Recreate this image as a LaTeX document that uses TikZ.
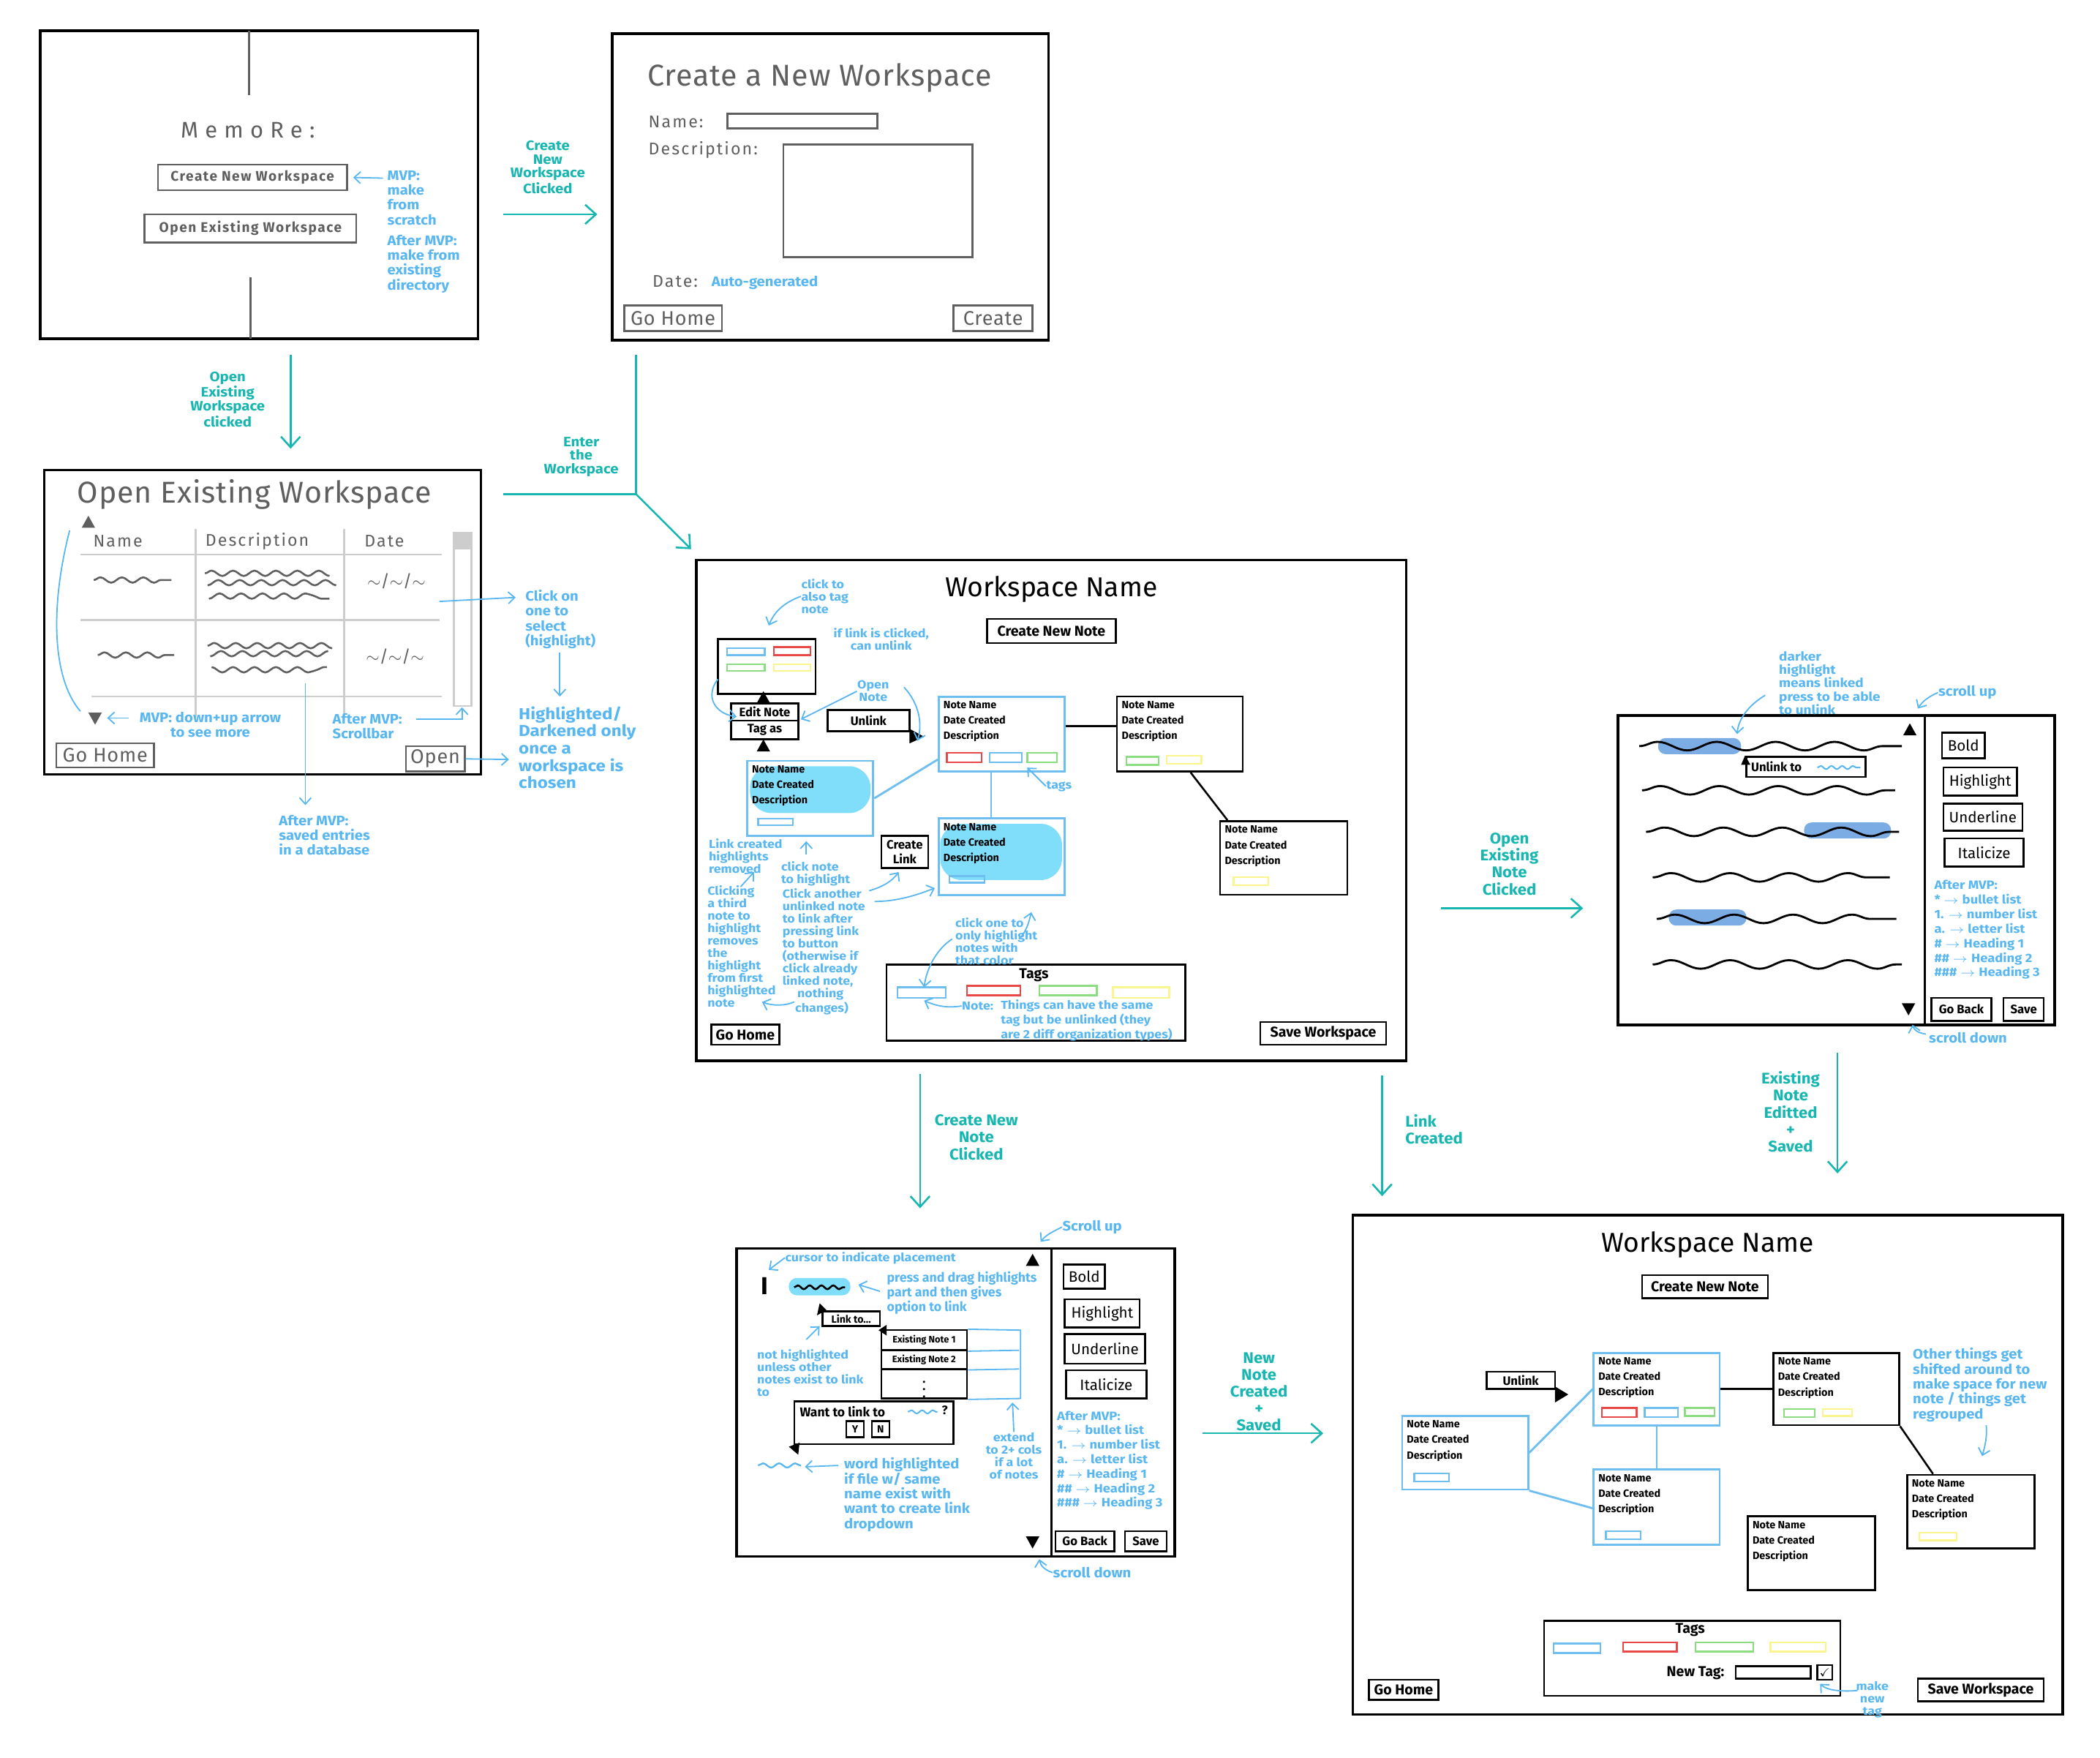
\documentclass[tikz,border=0pt]{standalone}
\usepackage{fontspec}
\usepackage{amssymb}
\setmainfont{Fira Sans}
\usetikzlibrary{arrows.meta,calc,fit,decorations.pathmorphing}

\definecolor{flowteal}{RGB}{24,182,176}
\definecolor{annblue}{RGB}{88,182,240}
\definecolor{hlcyan}{RGB}{128,222,250}
\definecolor{hldark}{RGB}{124,172,228}
\definecolor{tagblue}{RGB}{110,190,240}
\definecolor{tagred}{RGB}{232,72,72}
\definecolor{taggreen}{RGB}{140,220,130}
\definecolor{tagyellow}{RGB}{250,245,140}
\definecolor{dkgray}{RGB}{95,95,95}
\definecolor{ltgray}{RGB}{205,205,205}

\tikzset{
  screen/.style={draw, line width=1.4pt, inner sep=0pt},
  nbox/.style={draw, line width=1pt, inner sep=0pt},
  gbox/.style={draw=dkgray, line width=1pt, inner sep=0pt},
  bluebox/.style={draw=tagblue, line width=1.1pt, inner sep=0pt},
  flow/.style={draw=flowteal, line width=1pt, -{Straight Barb[length=2mm,width=3.6mm]}},
  flowline/.style={draw=flowteal, line width=1pt},
  flowlbl/.style={text=flowteal, font=\fontsize{7.2}{7.2}\selectfont\bfseries, align=center, inner sep=0pt, xscale=1.1},
  flowbig/.style={text=flowteal, font=\fontsize{8.2}{9}\selectfont\bfseries, align=center, inner sep=0pt, xscale=1.05},
  annbase/.style={text=annblue, align=left, inner sep=0pt},
  ann/.style={annbase, font=\fontsize{7.3}{7.9}\selectfont\bfseries, xscale=1.08},
  annsm/.style={annbase, font=\fontsize{6.2}{6.6}\selectfont\bfseries, xscale=1.12},
  annbig/.style={annbase, font=\fontsize{8.4}{9.2}\selectfont\bfseries, xscale=1.12},
  annarrow/.style={draw=annblue, line width=0.7pt, -{Straight Barb[length=1.2mm,width=2.2mm]}},
  annline/.style={draw=annblue, line width=0.7pt},
  notetxt/.style={font=\fontsize{5.6}{8.2}\selectfont\bfseries, align=left, inner sep=0pt},
  btntxt/.style={font=\fontsize{6.5}{7.5}\selectfont\bfseries},
  btnbig/.style={font=\fontsize{7.6}{8}\selectfont\bfseries},
  sidetxt/.style={font=\fontsize{8}{8}\selectfont},
  gtxt/.style={text=dkgray, font=\fontsize{10.5}{11}\selectfont\addfontfeature{LetterSpace=3}},
  lbl/.style={text=dkgray, font=\fontsize{9}{11}\selectfont\addfontfeature{LetterSpace=9}, inner sep=0pt},
  title/.style={font=\fontsize{16}{18}\selectfont\addfontfeature{LetterSpace=2}, inner sep=0pt},
  wstitle/.style={font=\fontsize{14.5}{17}\selectfont, inner sep=0pt},
  tag/.style={line width=0.9pt},
  squig/.style={decorate, decoration={snake, amplitude=0.8mm, segment length=11mm}, line width=1.1pt},
  gsquig/.style={decorate, decoration={snake, amplitude=0.5mm, segment length=4mm}, draw=dkgray, line width=1pt},
}

% button: name, box style, corners, text style, text
\newcommand{\btn}[5]{%
  \node[#2, fit={#3}] (#1) {};
  \node[#4, inner sep=0pt] (#1txt) at (#1.center) {#5};
}
% note card: name, border style, top left, bottom right
\newcommand{\notecard}[4]{%
  \node[#2, fit={#3 #4}] (#1) {};
  \node[notetxt, anchor=north west] (#1txt) at ($(#1.north west)+(4,4)$) {Note Name\\Date Created\\Description};
}
\newcommand{\tagbox}[3]{\draw[tag, draw=#1] #2 rectangle #3;}
\newcommand{\uptri}[2][black]{\fill[#1] #2 ++(-5,4) -- ++(10,0) -- ++(-5,-9) -- cycle;}
\newcommand{\downtri}[2][black]{\fill[#1] #2 ++(-5,-4) -- ++(10,0) -- ++(-5,9) -- cycle;}

\begin{document}
\begin{tikzpicture}[x=0.25mm, y=-0.25mm]
\useasboundingbox (0,0) rectangle (1568,1312);

%% ---------- home screen
\node[screen, fit={(30,23) (357,253)}] (home) {};
\draw[dkgray, line width=0.9pt] (186,23) -- (186,71) (187,207) -- (187,253);
\node[text=dkgray, font=\fontsize{12}{14}\selectfont\addfontfeature{LetterSpace=30}] (homeTitle) at (185,97) {MemoRe:};
\btn{newWs}{gbox}{(118,123) (259,142)}{gtxt, font=\fontsize{7.4}{8}\selectfont\bfseries\addfontfeature{LetterSpace=8}}{Create New Workspace}
\btn{openWs}{gbox}{(108,160) (266,181)}{gtxt, font=\fontsize{7.4}{8}\selectfont\bfseries\addfontfeature{LetterSpace=8}}{Open Existing Workspace}
\node[ann, anchor=north west] (homeNote) at (289,127) {MVP:\\make\\from\\scratch\\[3pt]After MVP:\\make from\\existing\\directory};
\draw[annarrow] (286,133) -- ($(newWs.east)+(4,0)$);

% home -> create
\coordinate (f1a) at (376,160); \coordinate (f1b) at (446,160);
\draw[flow] (f1a) -- (f1b);
\node[flowlbl] (f1lbl) at (409,125) {Create\\New\\Workspace\\Clicked};

%% ---------- create workspace
\node[screen, fit={(457,25) (783,254)}] (createWs) {};
\node[title, text=dkgray] (cwTitle) at (612,58) {Create a New Workspace};
\node[lbl, anchor=west] (nameLbl) at (484,91) {Name:};
\node[gbox, fit={(543,85) (655,96)}] (nameField) {};
\node[lbl, anchor=west] (descLbl) at (484,112) {Description:};
\node[gbox, fit={(585,108) (726,192)}] (descField) {};
\node[lbl, anchor=west] (dateLbl) at (487,210) {Date:};
\node[ann, anchor=west] (dateAuto) at (531,211) {Auto-generated};
\btn{cwHome}{gbox}{(466,228) (539,247)}{gtxt}{Go Home}
\btn{cwCreate}{gbox}{(712,228) (771,247)}{gtxt}{Create}

% home -> open
\coordinate (f2a) at (217,265); \coordinate (f2b) at (217,335);
\draw[flow] (f2a) -- (f2b);
\node[flowlbl] (f2lbl) at (170,298) {Open\\Existing\\Workspace\\clicked};

%% ---------- open existing workspace
\node[screen, fit={(33,351) (359,578)}] (openScr) {};
\node[title, text=dkgray] (oeTitle) at (190,369) {Open Existing Workspace};
\uptri[dkgray]{(66,390)}
\downtri[dkgray]{(71,536)}
\node[lbl] (colName) at (88,404) {Name};
\node[lbl] (colDesc) at (192,404) {Description};
\node[lbl] (colDate) at (287,404) {Date};
\draw[ltgray, line width=1pt] (60,414) -- (330,414) (60,463) -- (328,463) (68,520) -- (330,520)
  (146,395) -- (146,535) (257,395) -- (257,535);
\draw[ltgray, line width=1pt] (339,398) rectangle (352,527);
\fill[ltgray] (339,398) rectangle (352,410);
% row squiggles
\draw[gsquig] (70,433) -- (128,433);
\draw[gsquig] (153,428) -- (245,428) (155,437) -- (245,437) (156,447) -- (246,447);
\node[text=dkgray, font=\fontsize{9}{10}\selectfont] (date1) at (296,434) {$\sim$/$\sim$/$\sim$};
\draw[gsquig] (73,489) -- (130,489);
\draw[gsquig] (155,482) -- (244,482) (157,490) -- (242,490) (158,498) -- (244,498);
\node[text=dkgray, font=\fontsize{9}{10}\selectfont] (date2) at (295,490) {$\sim$/$\sim$/$\sim$};
\btn{oeHome}{gbox}{(42,555) (115,573)}{gtxt}{Go Home}
\btn{oeOpen}{gbox}{(303,557) (347,576)}{gtxt}{Open}
% notes on the open screen
\draw[annline] (52,396) .. controls (38,450) and (38,505) .. (60,531);
\node[ann, align=center] (arrowNote) at (157,541) {MVP: down+up arrow\\to see more};
\draw[annarrow] (96,536) -- (80,536);
\node[ann, anchor=west] (scrollNote) at (248,542) {After MVP:\\Scrollbar};
\draw[annarrow] (311,537) -- (345,537) -- (345,528);
\coordinate (dbTop) at (228,510);
\node[ann, anchor=north west] (dbNote) at (208,608) {After MVP:\\saved entries\\in a database};
\draw[annarrow] (dbTop) -- (228,601);
\node[ann, anchor=north west] (clickNote) at (392,440) {Click on\\one to\\select\\(highlight)};
\draw[annarrow] (328,449) -- (385,446);
\node[annbig, anchor=north west] (darkNote) at (387,527) {Highlighted/\\Darkened only\\once a\\workspace is\\chosen};
\draw[annarrow] (418,487) -- (418,520);
\draw[annarrow] (oeOpen.east) -- (380,567);

% create -> workspace
\coordinate (f3a) at (475,265); \coordinate (f3k) at (475,369);
\coordinate (f3c) at (376,369); \coordinate (f3b) at (516,410);
\draw[flowline] (f3a) -- (f3k) -- (f3c);
\draw[flow] (f3k) -- (f3b);
\node[flowlbl] (f3lbl) at (434,341) {Enter\\the\\Workspace};

%% ---------- workspace
\node[screen, fit={(520,418) (1050,792)}] (ws) {};
\node[wstitle] (wsTitle) at (785,440) {Workspace Name};
\btn{wsNew}{nbox}{(737,462) (833,480)}{btnbig}{Create New Note}
% tag menu
\node[nbox, fit={(536,477) (609,518)}] (tagMenu) {};
\tagbox{tagblue}{(543,484)}{(571,489)}
\tagbox{tagred}{(578,483)}{(605,489)}
\tagbox{taggreen}{(543,496)}{(571,501)}
\tagbox{tagyellow}{(578,496)}{(605,501)}
\uptri{(570,521)}
\btn{editNote}{nbox}{(546,525) (596,538)}{btntxt}{Edit Note}
\btn{tagAs}{nbox}{(546,538) (596,552)}{btntxt}{Tag as}
\uptri{(570,557)}
\btn{unlinkBtn}{nbox}{(618,530) (679,546)}{btntxt}{Unlink}
\fill (679,544) -- (690,550) -- (679,555) -- cycle;
% notes
\fill[hlcyan, rounded corners=4mm] (560,572) rectangle (650,607);
\fill[hlcyan, rounded corners=4mm] (702,615) rectangle (793,657);
\notecard{noteA}{bluebox}{(701,520)}{(795,576)}
\notecard{noteB}{bluebox}{(558,568)}{(652,624)}
\notecard{noteC}{bluebox}{(701,611)}{(795,668)}
\notecard{noteD}{nbox}{(834,520)}{(928,576)}
\notecard{noteE}{nbox}{(911,613)}{(1006,668)}
\tagbox{tagred}{(707,562)}{(733,569)}
\tagbox{tagblue}{(739,562)}{(763,569)}
\tagbox{taggreen}{(767,562)}{(789,569)}
\tagbox{tagblue}{(566,611)}{(592,616)}
\tagbox{tagblue}{(709,654)}{(735,659)}
\tagbox{taggreen}{(841,565)}{(865,571)}
\tagbox{tagyellow}{(871,564)}{(897,570)}
\tagbox{tagyellow}{(921,655)}{(947,661)}
\draw[tagblue, line width=1.1pt] (noteB.east) -- ($(noteA.west)+(0,19)$);
\draw[tagblue, line width=1.1pt] ($(noteA.south)+(-8,0)$) -- ($(noteC.north)+(-8,0)$);
\draw[line width=1pt] ($(noteA.east)+(0,-6)$) -- ($(noteD.west)+(0,-6)$);
\draw[line width=1pt] ($(noteD.south)+(8,0)$) -- ($(noteE.north)+(-42,0)$);
\btn{createLink}{nbox}{(658,624) (693,648)}{btntxt, align=center}{Create\\Link}
% tags panel
\node[nbox, fit={(662,720) (885,777)}] (tagsPanel) {};
\node[btnbig] (tagsTitle) at (772,728) {Tags};
\tagbox{tagblue}{(670,737)}{(706,745)}
\tagbox{tagred}{(722,736)}{(762,743)}
\tagbox{taggreen}{(776,736)}{(819,743)}
\tagbox{tagyellow}{(831,737)}{(873,745)}
\node[annsm, anchor=west] (tagNoteA) at (718,751) {Note:};
\node[annsm, anchor=north west] (tagNoteB) at (747,746) {Things can have the same\\tag but be unlinked (they\\are 2 diff organization types)};
\draw[annarrow] (tagNoteA.west) .. controls (705,753) and (697,750) .. (690,747);
\btn{wsHome}{nbox}{(531,765) (582,780)}{btnbig}{Go Home}
\btn{wsSave}{nbox}{(941,763) (1035,780)}{btnbig}{Save Workspace}
% workspace notes
\node[annsm, anchor=north west] (tagNote) at (598,432) {click to\\also tag\\note};
\draw[annarrow] (tagNote.west) .. controls (585,450) and (578,457) .. (574,467);
\node[annsm, align=center] (unlinkNote) at (658,477) {if link is clicked,\\can unlink};
\draw[annarrow] (536,507) .. controls (526,520) and (534,533) .. (550,535);
\node[annsm, align=center] (openNote) at (652,516) {Open\\Note};
\draw[annarrow] (openNote.west) -- (598,537);
\draw[annarrow] (675,513) .. controls (686,525) and (689,540) .. (685,553);
\node[annsm, anchor=west] (tagsLbl) at (781,587) {tags};
\draw[annarrow] (tagsLbl.west) -- (767,573);
\node[annsm, anchor=north west] (removedNote) at (529,626) {Link created\\highlights\\removed};
\draw[annarrow] (602,638) -- (602,628);
\node[annsm, anchor=north west] (clickNoteB) at (583,643) {click note\\to highlight};
\node[annsm, anchor=north west] (thirdNote) at (528,661) {Clicking\\a third\\note to\\highlight\\removes\\the\\highlight\\from first\\highlighted\\note};
\draw[annarrow] (553,662) -- (563,651);
\node[annsm, anchor=north west] (anotherNote) at (584,663) {Click another\\unlinked note\\to link after\\pressing link\\to button\\(otherwise if\\click already\\linked note,\\\hspace{7pt}nothing\\\hspace{6pt}changes)};
\draw[annarrow] (649,665) .. controls (659,662) and (666,658) .. (671,651);
\draw[annarrow] (653,673) .. controls (670,673) and (685,668) .. (698,663);
\draw[annarrow] (593,748) .. controls (586,751) and (577,751) .. (569,748);
\node[annsm, anchor=north west] (colorNote) at (713,685) {click one to\\only highlight\\notes with\\that color};
\draw[annarrow] (762,700) .. controls (766,695) and (768,690) .. (770,681);
\draw[annarrow] (711,701) .. controls (700,708) and (692,722) .. (690,737);

% workspace -> new note, link created
\coordinate (f4a) at (687,802); \coordinate (f4b) at (687,902);
\draw[flow] (f4a) -- (f4b);
\node[flowbig] (f4lbl) at (729,849) {Create New\\Note\\Clicked};
\coordinate (f5a) at (1032,803); \coordinate (f5b) at (1032,893);
\draw[flow] (f5a) -- (f5b);
\node[flowbig, anchor=west, align=left] (f5lbl) at (1049,843) {Link\\Created};
% workspace -> note editor
\coordinate (f6a) at (1076,678); \coordinate (f6b) at (1182,678);
\draw[flow] (f6a) -- (f6b);
\node[flowbig] (f6lbl) at (1127,645) {Open\\Existing\\Note\\Clicked};

%% ---------- existing note editor
\node[screen, fit={(1208,534) (1534,765)}] (noteEd) {};
\draw[line width=1.2pt] (1437,534) -- (1437,765);
\uptri{(1426,545)}
\downtri{(1425,753)}
\fill[hldark, rounded corners=1.4mm] (1238,551) rectangle (1300,563);
\fill[hldark, rounded corners=1.4mm] (1347,614) rectangle (1412,626);
\fill[hldark, rounded corners=1.4mm] (1246,679) rectangle (1304,691);
\draw[squig] (1224,557) -- (1420,557);
\draw[squig] (1226,590) -- (1415,590);
\draw[squig] (1229,621) -- (1418,621);
\draw[squig] (1234,655) -- (1411,655);
\draw[squig] (1237,686) -- (1416,686);
\draw[squig] (1234,720) -- (1420,720);
\fill (1300,571) -- (1307,571) -- (1303,564) -- cycle;
\node[nbox, fit={(1304,565) (1393,580)}] (unlinkTo) {};
\node[btntxt, anchor=west, inner sep=0pt] (unlinkToTxt) at ($(unlinkTo.west)+(4,0)$) {Unlink to};
\draw[annblue, line width=0.8pt, decorate, decoration={snake, amplitude=0.3mm, segment length=2mm}] (1357,573) -- (1389,573);
\btn{edBold}{nbox}{(1450,547) (1482,566)}{sidetxt}{Bold}
\btn{edHigh}{nbox}{(1451,573) (1506,594)}{sidetxt}{Highlight}
\btn{edUnder}{nbox}{(1451,600) (1510,620)}{sidetxt}{Underline}
\btn{edItal}{nbox}{(1452,626) (1511,647)}{sidetxt}{Italicize}
\node[annsm, anchor=north west, font=\fontsize{6.4}{7.7}\selectfont\bfseries] (edMvp) at (1444,657) {After MVP:\\* $\to$ bullet list\\1. $\to$ number list\\a. $\to$ letter list\\\# $\to$ Heading 1\\\#\# $\to$ Heading 2\\\#\#\# $\to$ Heading 3};
\btn{edBack}{nbox}{(1442,745) (1487,762)}{btntxt}{Go Back}
\btn{edSave}{nbox}{(1496,745) (1526,762)}{btntxt}{Save}
\node[annsm, anchor=north west, font=\fontsize{6.6}{7.1}\selectfont\bfseries] (darkerNote) at (1328,486) {darker\\highlight\\means linked\\press to be able\\to unlink};
\draw[annarrow] (1318,519) .. controls (1305,527) and (1298,537) .. (1297,548);
\node[ann, anchor=west] (edUp) at (1447,517) {scroll up};
\draw[annarrow] (edUp.west) .. controls (1440,520) and (1435,524) .. (1432,529);
\node[ann, anchor=west] (edDown) at (1440,775) {scroll down};
\draw[annarrow] (1438,772) .. controls (1432,771) and (1429,769) .. (1428,765);

% editor -> workspace
\coordinate (f7a) at (1372,786); \coordinate (f7b) at (1372,876);
\draw[flow] (f7a) -- (f7b);
\node[flowbig] (f7lbl) at (1337,830) {Existing\\Note\\Editted\\+\\Saved};

%% ---------- new note editor
\node[screen, fit={(550,932) (877,1162)}] (newNote) {};
\draw[line width=1.2pt] (785,932) -- (785,1162);
\uptri{(771,941)}
\downtri{(771,1151)}
\node[annsm, anchor=west] (cursorNote) at (586,939) {cursor to indicate placement};
\draw[annarrow] (cursorNote.west) -- (574,948);
\node[font=\fontsize{13}{13}\selectfont\rmfamily\bfseries, inner sep=0pt] (cursorI) at (571,960) {I};
\fill[hlcyan, rounded corners=1.5mm] (589,954) rectangle (635,967);
\draw[line width=1pt, decorate, decoration={snake, amplitude=0.35mm, segment length=2.2mm}] (593,961) -- (631,961);
\node[annbase, font=\fontsize{6.9}{7.8}\selectfont\bfseries, anchor=north west] (dragNote) at (662,949) {press and drag highlights\\part and then gives\\option to link};
\draw[annarrow] (657,964) -- (641,959);
\fill (610,982) -- (617,978) -- (612,973) -- cycle;
\btn{linkTo}{nbox}{(614,979) (657,990)}{btntxt, font=\fontsize{5.5}{6}\selectfont\bfseries}{Link to...}
\fill (656,993) -- (662,989) -- (662,997) -- cycle;
\btn{exist1}{nbox}{(658,993) (722,1008)}{btntxt, font=\fontsize{5}{6}\selectfont\bfseries}{Existing Note 1}
\btn{exist2}{nbox}{(658,1008) (722,1022)}{btntxt, font=\fontsize{5}{6}\selectfont\bfseries}{Existing Note 2}
\btn{existMore}{nbox}{(658,1022) (722,1044)}{btntxt}{$\vdots$}
\draw[annline] (exist1.north east) -- (762,993) -- (762,1044) -- (existMore.south east);
\draw[annline] (exist1.south east) -- (761,1008) (exist2.south east) -- (761,1022);
\node[annsm, anchor=north west] (notHlNote) at (565,1007) {not highlighted\\unless other\\notes exist to link\\to};
\draw[annarrow] (602,1000) -- (612,990);
\node[nbox, fit={(593,1046) (712,1078)}] (wantLink) {};
\node[btntxt, font=\fontsize{6.8}{7}\selectfont\bfseries, anchor=west, inner sep=0pt] (wantTxt) at (597,1054) {Want to link to};
\draw[annblue, line width=0.8pt, decorate, decoration={snake, amplitude=0.3mm, segment length=2mm}] (678,1054) -- (700,1054);
\node[btntxt, anchor=west, inner sep=0pt] (wantQ) at (703,1053) {?};
\btn{yesBtn}{nbox}{(632,1061) (645,1073)}{btntxt, font=\fontsize{5.5}{6}\selectfont\bfseries}{Y}
\btn{noBtn}{nbox}{(651,1061) (664,1073)}{btntxt, font=\fontsize{5.5}{6}\selectfont\bfseries}{N}
\fill (589,1080) -- (597,1077) -- (596,1086) -- cycle;
\draw[annblue, line width=0.9pt, decorate, decoration={snake, amplitude=0.4mm, segment length=3mm}] (566,1094) -- (598,1094);
\node[ann, anchor=north west] (wordNote) at (630,1088) {word highlighted\\if file w/ same\\name exist with\\want to create link\\dropdown};
\draw[annarrow] (626,1094) -- (601,1095);
\node[annsm, align=center] (extendNote) at (757,1087) {extend\\to 2+ cols\\if a lot\\of notes};
\draw[annarrow] (757,1069) -- (756,1047);
\btn{nnBold}{nbox}{(794,944) (825,962)}{sidetxt}{Bold}
\btn{nnHigh}{nbox}{(795,970) (851,991)}{sidetxt}{Highlight}
\btn{nnUnder}{nbox}{(795,996) (855,1018)}{sidetxt}{Underline}
\btn{nnItal}{nbox}{(796,1023) (856,1044)}{sidetxt}{Italicize}
\node[annsm, anchor=north west, font=\fontsize{6.4}{7.7}\selectfont\bfseries] (nnMvp) at (789,1053) {After MVP:\\* $\to$ bullet list\\1. $\to$ number list\\a. $\to$ letter list\\\# $\to$ Heading 1\\\#\# $\to$ Heading 2\\\#\#\# $\to$ Heading 3};
\btn{nnBack}{nbox}{(788,1143) (832,1158)}{btntxt}{Go Back}
\btn{nnSave}{nbox}{(840,1143) (871,1158)}{btntxt}{Save}
\node[ann, anchor=west] (nnUp) at (793,916) {Scroll up};
\draw[annarrow] (nnUp.west) .. controls (785,920) and (781,922) .. (777,927);
\node[ann, anchor=west] (nnDown) at (786,1174) {scroll down};
\draw[annarrow] (nnDown.west) .. controls (780,1172) and (777,1169) .. (776,1164);

% new note -> workspace
\coordinate (f8a) at (898,1070); \coordinate (f8b) at (988,1070);
\draw[flow] (f8a) -- (f8b);
\node[flowbig] (f8lbl) at (940,1039) {New\\Note\\Created\\+\\Saved};

%% ---------- workspace after
\node[screen, fit={(1010,907) (1540,1280)}] (ws2) {};
\node[wstitle] (ws2Title) at (1275,929) {Workspace Name};
\btn{ws2New}{nbox}{(1226,952) (1320,969)}{btnbig}{Create New Note}
\btn{ws2Unlink}{nbox}{(1110,1024) (1161,1037)}{btntxt}{Unlink}
\fill (1161,1035) -- (1171,1041) -- (1161,1047) -- cycle;
\notecard{noteP}{bluebox}{(1190,1010)}{(1284,1064)}
\notecard{noteQ}{bluebox}{(1047,1057)}{(1141,1112)}
\notecard{noteR}{bluebox}{(1190,1097)}{(1284,1153)}
\notecard{noteS}{nbox}{(1324,1010)}{(1418,1064)}
\notecard{noteT}{nbox}{(1424,1101)}{(1519,1156)}
\notecard{noteU}{nbox}{(1305,1132)}{(1400,1187)}
\tagbox{tagred}{(1196,1051)}{(1222,1058)}
\tagbox{tagblue}{(1228,1051)}{(1253,1058)}
\tagbox{taggreen}{(1258,1051)}{(1280,1057)}
\tagbox{tagblue}{(1056,1100)}{(1082,1106)}
\tagbox{tagblue}{(1199,1143)}{(1225,1149)}
\tagbox{taggreen}{(1332,1052)}{(1355,1058)}
\tagbox{tagyellow}{(1361,1052)}{(1383,1057)}
\tagbox{tagyellow}{(1433,1144)}{(1461,1150)}
\draw[line width=1pt] (noteP.east) -- (noteS.west);
\draw[tagblue, line width=1.1pt] (noteP.south) -- (noteR.north);
\draw[tagblue, line width=1.1pt] (noteQ.east) -- (noteP.west);
\draw[tagblue, line width=1.1pt] (noteQ.south east) -- ($(noteR.west)+(0,1)$);
\draw[line width=1pt] (noteS.south east) -- ($(noteT.north west)+(20,0)$);
\node[ann, anchor=north west] (shiftNote) at (1428,1006) {Other things get\\shifted around to\\make space for new\\note / things get\\regrouped};
\draw[annarrow] (1483,1064) .. controls (1484,1072) and (1482,1080) .. (1480,1087);
% tags panel with new tag
\node[nbox, fit={(1153,1210) (1374,1266)}] (ws2Tags) {};
\node[btnbig] (ws2TagsTitle) at (1262,1217) {Tags};
\tagbox{tagblue}{(1160,1227)}{(1195,1234)}
\tagbox{tagred}{(1212,1226)}{(1252,1233)}
\tagbox{taggreen}{(1266,1226)}{(1309,1233)}
\tagbox{tagyellow}{(1322,1226)}{(1363,1233)}
\node[btnbig] (newTagLbl) at (1266,1249) {New Tag:};
\node[nbox, fit={(1296,1244) (1352,1253)}] (newTagField) {};
\btn{newTagOk}{nbox}{(1357,1243) (1368,1254)}{font=\fontsize{6}{6}\selectfont}{$\checkmark$}
\node[annsm, align=center] (makeTag) at (1398,1269) {make\\new\\tag};
\draw[annarrow] (1387,1262) .. controls (1375,1263) and (1364,1262) .. (1359,1257);
\btn{ws2Home}{nbox}{(1022,1254) (1074,1269)}{btnbig}{Go Home}
\btn{ws2Save}{nbox}{(1432,1253) (1526,1270)}{btnbig}{Save Workspace}
\end{tikzpicture}
\end{document}
